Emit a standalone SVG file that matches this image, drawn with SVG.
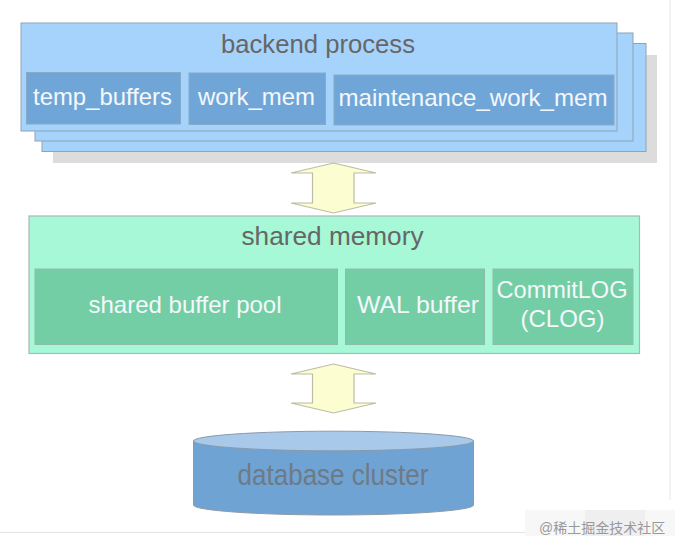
<svg xmlns="http://www.w3.org/2000/svg" width="683" height="551" viewBox="0 0 683 551">
<style>
  text { font-family: "Liberation Sans", Arial, sans-serif; }
  .bp { fill: #a6d3fb; stroke: #8fa3b4; stroke-width: 1; }
  .bpin { fill: #70a6d7; stroke: #86aac8; stroke-width: 1; }
  .sm { fill: #a6f8d6; stroke: #a8bab3; stroke-width: 1.2; }
  .smin { fill: #73cea6; stroke: #8fbca9; stroke-width: 1; }
  .title { fill: #666666; font-size: 25px; text-anchor: middle; }
  .lbl { fill: #f4f8fb; font-size: 24px; text-anchor: middle; }
  .arrow { fill: #fdfdd2; stroke: #bcbca6; stroke-width: 1.2; stroke-linejoin: miter; }
</style>
<rect x="0" y="0" width="683" height="551" fill="#ffffff"/>
<!-- page edges -->
<line x1="670" y1="0" x2="670" y2="500" stroke="#e6e6e6" stroke-width="1"/>
<line x1="0" y1="532.5" x2="536" y2="532.5" stroke="#e2e2e2" stroke-width="1"/>
<rect x="525" y="510" width="150" height="26" fill="#f7f7f7"/>
<rect x="585" y="510" width="60" height="26" fill="#efefef"/>

<g id="backend-process">
  <rect x="53" y="55" width="604" height="108" fill="#dcdcdc"/>
  <rect class="bp" x="42" y="43.5" width="604" height="108"/>
  <rect class="bp" x="35" y="33" width="598" height="108"/>
  <rect class="bp" x="21" y="23" width="596" height="108"/>
  <text class="title" x="318" y="53" textLength="194" lengthAdjust="spacingAndGlyphs">backend process</text>
  <g id="temp_buffers">
    <rect class="bpin" x="26.5" y="72.5" width="154" height="51.5"/>
    <text class="lbl" x="102.5" y="105" textLength="139" lengthAdjust="spacingAndGlyphs">temp_buffers</text>
  </g>
  <g id="work_mem">
    <rect class="bpin" x="189" y="73" width="136.5" height="51.5"/>
    <text class="lbl" x="256.5" y="105" textLength="117" lengthAdjust="spacingAndGlyphs">work_mem</text>
  </g>
  <g id="maintenance_work_mem">
    <rect class="bpin" x="334" y="75" width="280" height="50"/>
    <text class="lbl" x="473" y="106" textLength="269" lengthAdjust="spacingAndGlyphs">maintenance_work_mem</text>
  </g>
</g>

<g id="shared-memory">
  <rect class="sm" x="29" y="216" width="610.5" height="137.5"/>
  <text class="title" x="332.5" y="245" textLength="182" lengthAdjust="spacingAndGlyphs">shared memory</text>
  <g id="shared-buffer-pool">
    <rect class="smin" x="35" y="269" width="302.5" height="75.5"/>
    <text class="lbl" x="185" y="313" textLength="193" lengthAdjust="spacingAndGlyphs">shared buffer pool</text>
  </g>
  <g id="wal-buffer">
    <rect class="smin" x="345.5" y="269" width="139" height="75.5"/>
    <text class="lbl" x="418" y="313" textLength="122" lengthAdjust="spacingAndGlyphs">WAL buffer</text>
  </g>
  <g id="clog">
    <rect class="smin" x="493" y="269" width="140" height="75.5"/>
    <text class="lbl" x="562" y="298" textLength="131" lengthAdjust="spacingAndGlyphs">CommitLOG</text>
    <text class="lbl" x="562.5" y="327" textLength="84" lengthAdjust="spacingAndGlyphs">(CLOG)</text>
  </g>
</g>

<g id="database-cluster">
  <path d="M193.5,441 L193.5,505 A140,10 0 0 0 473.5,505 L473.5,441 Z" fill="#6fa3d3" stroke="#8a9aaa" stroke-width="1"/>
  <ellipse cx="333.5" cy="441" rx="140" ry="9.8" fill="#a8c9e9" stroke="#8a9aaa" stroke-width="1"/>
  <text x="333" y="485" font-size="29" fill="#6e7a86" text-anchor="middle" textLength="191" lengthAdjust="spacingAndGlyphs">database cluster</text>
</g>

<g id="connectors">
  <polygon class="arrow" points="333.5,163 376,173 354,173 354,203 376,203 333.5,213 291,203 312.5,203 312.5,173 291,173"/>
  <polygon class="arrow" points="333.5,364 376,374 354,374 354,403 376,403 333.5,413 291,403 312.5,403 312.5,374 291,374"/>
</g>

<text x="539" y="533" font-size="14" fill="#999999" style="font-family: 'Liberation Sans', 'Noto Sans CJK SC', sans-serif;">@稀土掘金技术社区</text>
</svg>
